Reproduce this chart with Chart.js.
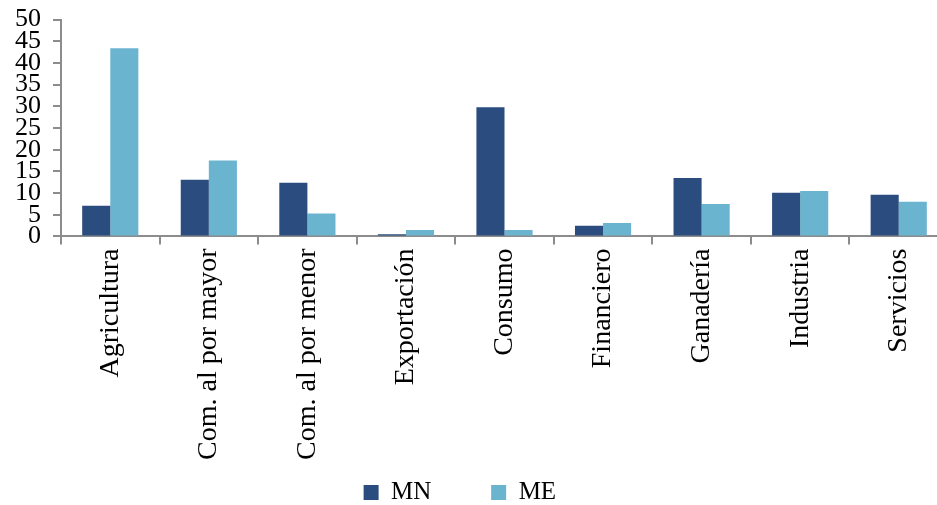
<!DOCTYPE html>
<html>
<head>
<meta charset="utf-8">
<script src="https://cdn.jsdelivr.net/npm/chart.js@4/dist/chart.umd.min.js"></script>
<style>
  html, body { margin: 0; padding: 0; background: #ffffff; overflow: hidden; }
  #wrap { position: relative; width: 948px; height: 505px; overflow: hidden; }
  #chart { position: absolute; left: 0; top: -8px; }
</style>
</head>
<body>
<div id="wrap"><canvas id="chart" width="948" height="523"></canvas></div>
<script>
// Loan shares by sector, domestic (MN) vs foreign currency (ME)
const categories = ['Agricultura', 'Com. al por mayor', 'Com. al por menor', 'Exportación',
                    'Consumo', 'Financiero', 'Ganadería', 'Industria', 'Servicios'];
const seriesMN = [7.1, 13.1, 12.4, 0.5, 29.8, 2.5, 13.5, 10.1, 9.6];
const seriesME = [43.4, 17.5, 5.3, 1.5, 1.5, 3.1, 7.5, 10.5, 8.0];
const yTicks = [0, 5, 10, 15, 20, 25, 30, 35, 40, 45, 50];

const FONT = "'Liberation Serif', 'Times New Roman', serif";
const AXIS = '#8c8c8c';

new Chart(document.getElementById('chart'), {
  type: 'bar',
  data: {
    labels: categories,
    datasets: [
      { label: 'MN', data: seriesMN, backgroundColor: '#2b4c7e',
        categoryPercentage: 0.57, barPercentage: 1.0 },
      { label: 'ME', data: seriesME, backgroundColor: '#6bb4d0',
        categoryPercentage: 0.57, barPercentage: 1.0 }
    ]
  },
  options: {
    responsive: false,
    animation: false,
    layout: { padding: { left: 3, top: 3, right: 0, bottom: 0 } },
    plugins: {
      tooltip: { enabled: false },
      legend: {
        position: 'bottom',
        labels: {
          color: '#000',
          font: { family: FONT, size: 25 },
          boxWidth: 15,
          boxHeight: 15,
          padding: 16,
          generateLabels(chart) {
            const items = Chart.defaults.plugins.legend.labels.generateLabels(chart);
            // widen the gap after the first entry
            if (items[0]) items[0].text = items[0].text + '\u00a0'.repeat(7);
            if (items[1]) items[1].text = items[1].text + '\u00a0'.repeat(5);
            return items;
          }
        }
      }
    },
    scales: {
      x: {
        grid: { display: true, drawOnChartArea: false, drawTicks: true,
                tickLength: 8, color: AXIS, lineWidth: 2, offset: true },
        border: { display: true, color: AXIS, width: 2 },
        ticks: { color: '#000', font: { family: FONT, size: 28 },
                 minRotation: 90, maxRotation: 90, padding: 4, autoSkip: false }
      },
      y: {
        min: 0, max: 50,
        afterBuildTicks(scale) { scale.ticks = yTicks.map(v => ({ value: v })); },
        grid: { display: true, drawOnChartArea: false, drawTicks: true,
                tickLength: 8, color: AXIS, lineWidth: 2 },
        border: { display: true, color: AXIS, width: 2 },
        ticks: { color: '#000', font: { family: FONT, size: 26 },
                 padding: 12, autoSkip: false }
      }
    }
  }
});
</script>
</body>
</html>
